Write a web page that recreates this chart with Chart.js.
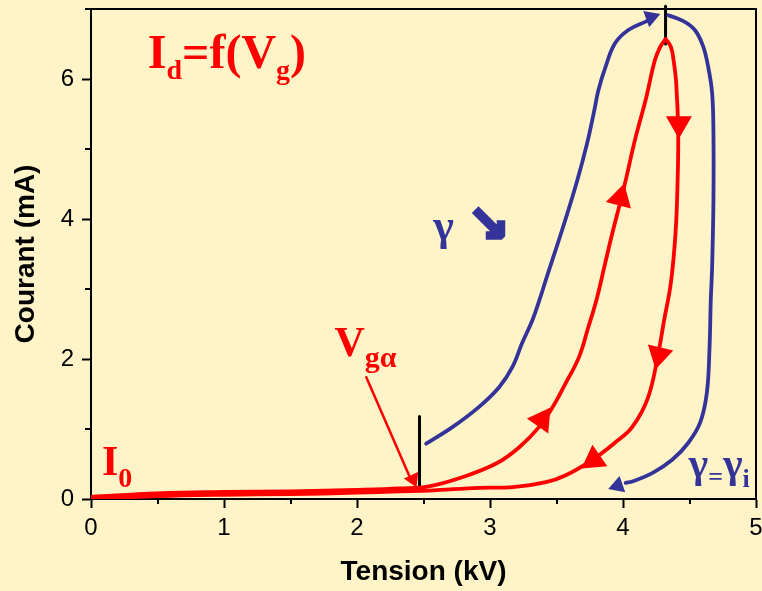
<!DOCTYPE html>
<html>
<head>
<meta charset="utf-8">
<script src="https://cdn.jsdelivr.net/npm/chart.js@4.4.1/dist/chart.umd.min.js"></script>
<style>
    html, body { margin: 0; padding: 0; background: #fff4c8; }
    #ivChart { display: block; }
</style>
</head>
<body>
<canvas id="ivChart" width="762" height="591"></canvas>
<script>
// Red loop, rising branch (baseline, then up to the peak) - kV / mA
const redUpX = [0, 0.5, 1, 1.5, 2, 2.32, 2.54, 2.79, 3.05, 3.22, 3.37, 3.47, 3.57, 3.67, 3.74, 3.80, 3.86, 3.92, 4.01, 4.09, 4.17, 4.24, 4.28, 4.32];
const redUpY = [0.03, 0.08, 0.10, 0.11, 0.13, 0.15, 0.18, 0.31, 0.51, 0.74, 1.03, 1.31, 1.66, 2.03, 2.46, 2.84, 3.32, 3.80, 4.47, 5.13, 5.70, 6.27, 6.46, 6.57];

// Red loop, falling branch (peak back down to 0)
const redDownX = [4.32, 4.36, 4.38, 4.40, 4.415, 4.41, 4.395, 4.36, 4.305, 4.27, 4.19, 4.07, 3.93, 3.77, 3.57, 3.42, 3.17, 2.92, 2.54, 2.32, 2, 1.5, 1, 0.5, 0];
const redDownY = [6.57, 6.46, 6.27, 5.94, 5.23, 4.51, 3.80, 3.09, 2.51, 2.13, 1.46, 1.03, 0.79, 0.56, 0.34, 0.24, 0.17, 0.16, 0.12, 0.11, 0.09, 0.07, 0.06, 0.04, 0.0];

// Blue curve, rising part (up to the arrow at the top)
const blueUpX = [2.52, 2.72, 2.92, 3.07, 3.17, 3.24, 3.32, 3.38, 3.42, 3.55, 3.65, 3.73, 3.785, 3.815, 3.87, 3.94, 4.04, 4.17, 4.21];
const blueUpY = [0.79, 1.03, 1.32, 1.60, 1.89, 2.22, 2.56, 2.89, 3.13, 3.89, 4.51, 5.08, 5.56, 5.84, 6.18, 6.51, 6.70, 6.82, 6.85];

// Blue curve, falling part (right side, down to the arrow at the bottom)
const blueDownX = [4.34, 4.45, 4.54, 4.60, 4.64, 4.67, 4.68, 4.68, 4.67, 4.66, 4.65, 4.63, 4.58, 4.49, 4.37, 4.22, 4.07, 4.02];
const blueDownY = [6.91, 6.83, 6.70, 6.48, 6.18, 5.80, 5.23, 4.27, 3.31, 2.84, 2.13, 1.51, 1.09, 0.80, 0.56, 0.37, 0.25, 0.23];

// Arrow heads along the red loop (position and heading in degrees)
const redArrowX = [3.39, 3.98, 4.42, 4.27, 3.78];
const redArrowY = [1.13, 4.30, 5.36, 2.06, 0.56];
const redArrowAngle = [35, 15, 180, 193, 235];

// Arrow heads on the blue curve
const blueArrowX = [4.21, 3.96];
const blueArrowY = [6.88, 0.19];
const blueArrowAngle = [70, 251];

// Pointer from the V_g alpha label to the threshold
const pointerX = [2.07, 2.40];
const pointerY = [1.74, 0.30];
const pointerHeadX = [2.42];
const pointerHeadY = [0.28];
const pointerHeadAngle = [156];

// Black markers at the threshold and at the peak
const markLowX = [2.47, 2.47];
const markLowY = [0.15, 1.18];
const markTopX = [4.32, 4.32];
const markTopY = [6.50, 7.04];

// Axis ranges and ticks
const xMin = 0, xMax = 5, xStep = 0.5;
const yMin = 0, yMax = 7, yStep = 1;

const RED = '#ff0000';
const BLUE = '#333399';
const SANS = "'Liberation Sans', Arial, sans-serif";
const SERIF = "'Liberation Serif', 'Times New Roman', serif";

function pts(xs, ys) {
    return xs.map((x, i) => ({ x: x, y: ys[i] }));
}

function curve(xs, ys, color, width) {
    return {
        data: pts(xs, ys),
        showLine: true,
        borderColor: color,
        borderWidth: width,
        pointRadius: 0,
        tension: 0.4,
        borderCapStyle: 'round',
        borderJoinStyle: 'round'
    };
}

function heads(xs, ys, angles, color, radius) {
    return {
        data: pts(xs, ys),
        showLine: false,
        pointStyle: 'triangle',
        pointRadius: radius,
        pointRotation: angles,
        backgroundColor: color,
        borderWidth: 0
    };
}

// Text labels drawn inside the plot, placed in data units
const labels = [
    { x: 0.4275, y: 6.157, color: RED, parts: [
        { t: 'I', size: 48 }, { t: 'd', size: 28, dy: 11 }, { t: '=f(V', size: 48 },
        { t: 'g', size: 28, dy: 11 }, { t: ')', size: 48 }] },
    { x: 1.83, y: 2.043, color: RED, parts: [
        { t: 'V', size: 42 }, { t: 'gα', size: 30, dy: 11 }] },
    { x: 0.0825, y: 0.343, color: RED, parts: [
        { t: 'I', size: 42 }, { t: '0', size: 28, dy: 12 }] },
    { x: 2.5725, y: 3.70, color: BLUE, parts: [{ t: 'γ', size: 44 }] },
    { x: 2.83, y: 3.69, color: BLUE, parts: [{ t: '↘', size: 50, family: "'DejaVu Sans', sans-serif", stroke: 3.5 }] },
    { x: 4.4925, y: 0.314, color: BLUE, parts: [
        { t: 'γ', size: 42 }, { t: '=', size: 26, dy: 8 }, { t: 'γ', size: 42 }, { t: 'i', size: 26, dy: 10 }] }
];

const textPlugin = {
    id: 'richText',
    afterDatasetsDraw(chart) {
        const ctx = chart.ctx;
        const xs = chart.scales.x, ys = chart.scales.y;
        ctx.save();
        ctx.textBaseline = 'alphabetic';
        ctx.textAlign = 'left';
        labels.forEach(lab => {
            let px = xs.getPixelForValue(lab.x);
            const py = ys.getPixelForValue(lab.y);
            lab.parts.forEach(p => {
                ctx.font = 'bold ' + p.size + 'px ' + (p.family || SERIF);
                ctx.fillStyle = lab.color;
                ctx.fillText(p.t, px, py + (p.dy || 0));
                if (p.stroke) {
                    ctx.strokeStyle = lab.color;
                    ctx.lineWidth = p.stroke;
                    ctx.lineJoin = 'miter';
                    ctx.strokeText(p.t, px, py + (p.dy || 0));
                }
                px += ctx.measureText(p.t).width;
            });
        });
        ctx.restore();
    }
};

// Frame on top/right and the short minor ticks
const framePlugin = {
    id: 'frame',
    afterDraw(chart) {
        const ctx = chart.ctx;
        const a = chart.chartArea;
        const xs = chart.scales.x, ys = chart.scales.y;
        ctx.save();
        ctx.strokeStyle = '#000';
        ctx.lineWidth = 2;
        ctx.beginPath();
        ctx.moveTo(a.left, a.top);
        ctx.lineTo(a.right, a.top);
        ctx.lineTo(a.right, a.bottom);
        ctx.stroke();
        ctx.beginPath();
        xs.ticks.forEach(t => {
            if (Number.isInteger(t.value)) return;
            const p = Math.round(xs.getPixelForValue(t.value));
            ctx.moveTo(p, a.bottom);
            ctx.lineTo(p, a.bottom + 5);
        });
        ys.ticks.forEach(t => {
            if (t.value % 2 === 0) return;
            const p = Math.round(ys.getPixelForValue(t.value));
            ctx.moveTo(a.left, p);
            ctx.lineTo(a.left - 6, p);
        });
        ctx.stroke();
        ctx.restore();
    }
};

const config = {
    type: 'scatter',
    data: {
        datasets: [
            curve(redUpX, redUpY, RED, 3.8),
            curve(redDownX, redDownY, RED, 3.8),
            curve(blueUpX, blueUpY, BLUE, 3.8),
            curve(blueDownX, blueDownY, BLUE, 3.8),
            Object.assign(curve(markLowX, markLowY, '#000', 3), { tension: 0 }),
            Object.assign(curve(markTopX, markTopY, '#000', 3), { tension: 0, clip: false }),
            Object.assign(curve(pointerX, pointerY, RED, 2.5), { tension: 0 }),
            heads(pointerHeadX, pointerHeadY, pointerHeadAngle, RED, 9),
            heads(redArrowX, redArrowY, redArrowAngle, RED, 15),
            heads(blueArrowX, blueArrowY, blueArrowAngle, BLUE, 10)
        ]
    },
    options: {
        responsive: false,
        animation: false,
        events: [],
        layout: {
            autoPadding: false,
            padding: { left: 0, top: 9, right: 6, bottom: 0 }
        },
        plugins: {
            legend: { display: false },
            tooltip: { enabled: false }
        },
        scales: {
            x: {
                type: 'linear',
                min: xMin,
                max: xMax,
                border: { display: true, color: '#000', width: 2 },
                grid: {
                    drawOnChartArea: false,
                    tickLength: 9,
                    tickWidth: 2,
                    tickColor: c => Number.isInteger(c.tick.value) ? '#000' : 'rgba(0,0,0,0)'
                },
                ticks: {
                    stepSize: xStep,
                    autoSkip: false,
                    maxRotation: 0,
                    padding: 6,
                    color: '#000',
                    font: { family: SANS, size: 24 },
                    callback: v => Number.isInteger(v) ? String(v) : ''
                },
                title: {
                    display: true,
                    text: 'Tension (kV)',
                    color: '#000',
                    font: { family: SANS, size: 28, weight: 'bold' },
                    padding: { top: 0, bottom: 2 }
                },
                afterFit: s => { s.height = 92; s.paddingLeft = 0; s.paddingRight = 0; }
            },
            y: {
                type: 'linear',
                min: yMin,
                max: yMax,
                border: { display: true, color: '#000', width: 2 },
                grid: {
                    drawOnChartArea: false,
                    tickLength: 9,
                    tickWidth: 2,
                    tickColor: c => c.tick.value % 2 === 0 ? '#000' : 'rgba(0,0,0,0)'
                },
                ticks: {
                    stepSize: yStep,
                    autoSkip: false,
                    padding: 8,
                    color: '#000',
                    font: { family: SANS, size: 24 },
                    callback: v => v % 2 === 0 ? String(v) : ''
                },
                title: {
                    display: true,
                    text: 'Courant (mA)',
                    color: '#000',
                    font: { family: SANS, size: 28, weight: 'bold' },
                    padding: { top: 9, bottom: 0 }
                },
                afterFit: s => { s.width = 91; s.paddingTop = 0; s.paddingBottom = 0; }
            }
        }
    },
    plugins: [textPlugin, framePlugin]
};

new Chart(document.getElementById('ivChart'), config);
</script>
</body>
</html>
